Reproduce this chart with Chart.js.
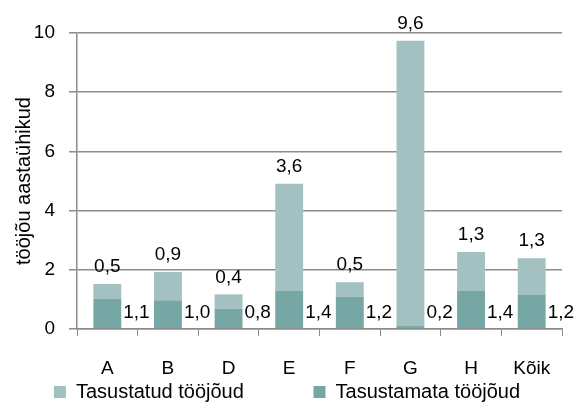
<!DOCTYPE html>
<html>
<head>
<meta charset="utf-8">
<script src="https://cdn.jsdelivr.net/npm/chart.js@4/dist/chart.umd.min.js"></script>
<style>
  html, body { margin: 0; padding: 0; background: #fff; }
  #wrap { width: 575px; height: 405px; }
</style>
</head>
<body>
<div id="wrap"><canvas id="chart"></canvas></div>
<script>
// Andmed
const categories = ['A', 'B', 'D', 'E', 'F', 'G', 'H', 'Kõik'];
const unpaid = [1.02, 0.97, 0.68, 1.28, 1.09, 0.10, 1.28, 1.15];
const paid = [0.50, 0.96, 0.49, 3.63, 0.49, 9.64, 1.32, 1.24];
const unpaidLabels = ['1,1', '1,0', '0,8', '1,4', '1,2', '0,2', '1,4', '1,2'];
const paidLabels = ['0,5', '0,9', '0,4', '3,6', '0,5', '9,6', '1,3', '1,3'];
const yTicks = [0, 2, 4, 6, 8, 10];

const FONT = '"Liberation Sans", Arial, sans-serif';
const gridColor = '#8c8c8c';

// Väärtussildid: ülemise osa silt tulba kohal, alumise osa silt tulbast paremal
const valueLabels = {
    id: 'valueLabels',
    afterDatasetsDraw(chart) {
        const ctx = chart.ctx;
        const y0 = chart.scales.y.getPixelForValue(0);
        const low = chart.getDatasetMeta(0).data;
        const high = chart.getDatasetMeta(1).data;
        ctx.save();
        ctx.font = '19px ' + FONT;
        ctx.fillStyle = '#000';
        ctx.textBaseline = 'middle';
        high.forEach((bar, i) => {
            ctx.textAlign = 'center';
            ctx.fillText(paidLabels[i], bar.x, bar.y - 17);
        });
        low.forEach((bar, i) => {
            ctx.textAlign = 'left';
            ctx.fillText(unpaidLabels[i], bar.x + bar.width / 2 + 2, y0 - 16);
        });
        ctx.restore();
    }
};

new Chart(document.getElementById('chart'), {
    type: 'bar',
    data: {
        labels: categories,
        datasets: [{
            label: 'Tasustamata tööjõud',
            data: unpaid,
            backgroundColor: '#77a7a4',
            categoryPercentage: 1,
            barPercentage: 0.46
        }, {
            label: 'Tasustatud tööjõud',
            data: paid,
            backgroundColor: '#a2c1c0',
            categoryPercentage: 1,
            barPercentage: 0.46
        }]
    },
    options: {
        responsive: true,
        maintainAspectRatio: false,
        animation: false,
        layout: { padding: { left: 12, right: 13, top: 33, bottom: -7 } },
        plugins: {
            legend: {
                position: 'bottom',
                reverse: true,
                labels: {
                    font: { family: FONT, size: 20 },
                    color: '#000',
                    boxWidth: 12,
                    boxHeight: 12,
                    padding: 3,
                    // vahe kahe legendikirje vahel
                    generateLabels(chart) {
                        const items = Chart.defaults.plugins.legend.labels.generateLabels(chart);
                        items.forEach(it => {
                            if (it.datasetIndex === 1) it.text += '\u00a0'.repeat(12);
                        });
                        return items;
                    }
                }
            },
            tooltip: { enabled: false }
        },
        scales: {
            x: {
                stacked: true,
                grid: { drawOnChartArea: false, drawTicks: true, tickLength: 7, color: gridColor },
                border: { color: gridColor, width: 1.5 },
                ticks: { color: '#000', font: { family: FONT, size: 19 }, padding: 21 },
                afterFit(scale) { scale.height = 50; }
            },
            y: {
                stacked: true,
                min: 0,
                max: 10,
                afterBuildTicks(scale) {
                    scale.ticks = yTicks.map(v => ({ value: v }));
                },
                afterFit(scale) { scale.width = 65; },
                grid: { color: gridColor, lineWidth: 1.5, tickLength: 8 },
                border: { color: gridColor, width: 1.5 },
                ticks: { color: '#000', font: { family: FONT, size: 19 }, padding: 14 },
                title: {
                    display: true,
                    text: 'tööjõu aastaühikud',
                    color: '#000',
                    font: { family: FONT, size: 20 },
                    padding: { top: 0, bottom: 0 }
                }
            }
        }
    },
    plugins: [valueLabels]
});
</script>
</body>
</html>
